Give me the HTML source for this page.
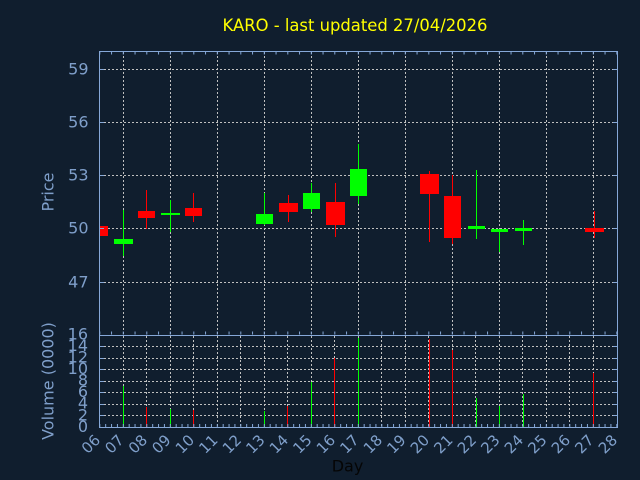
<!DOCTYPE html>
<html>
<head>
<meta charset="utf-8">
<style>
html,body{margin:0;padding:0;background:#101e2e;}
svg{display:block;}
text{font-family:"DejaVu Sans","Liberation Sans",sans-serif;}
</style>
</head>
<body>
<svg width="640" height="480" viewBox="0 0 640 480" xmlns="http://www.w3.org/2000/svg">
<rect x="0" y="0" width="640" height="480" fill="#101e2e"/>

<text x="355" y="31" font-size="16.4" fill="#ffff00" text-anchor="middle">KARO - last updated 27/04/2026</text>

<g stroke="#c0c0c0" stroke-width="1" stroke-dasharray="2,2" shape-rendering="crispEdges">
<line x1="100" y1="69.5" x2="617" y2="69.5"/>
<line x1="100" y1="122.5" x2="617" y2="122.5"/>
<line x1="100" y1="175.5" x2="617" y2="175.5"/>
<line x1="100" y1="228.5" x2="617" y2="228.5"/>
<line x1="100" y1="282.5" x2="617" y2="282.5"/>
<line x1="123.5" y1="52" x2="123.5" y2="335"/>
<line x1="170.5" y1="52" x2="170.5" y2="335"/>
<line x1="217.5" y1="52" x2="217.5" y2="335"/>
<line x1="264.5" y1="52" x2="264.5" y2="335"/>
<line x1="311.5" y1="52" x2="311.5" y2="335"/>
<line x1="358.5" y1="52" x2="358.5" y2="335"/>
<line x1="405.5" y1="52" x2="405.5" y2="335"/>
<line x1="452.5" y1="52" x2="452.5" y2="335"/>
<line x1="499.5" y1="52" x2="499.5" y2="335"/>
<line x1="546.5" y1="52" x2="546.5" y2="335"/>
<line x1="593.5" y1="52" x2="593.5" y2="335"/>
</g>

<g stroke="#c0c0c0" stroke-width="1" stroke-dasharray="2,2" shape-rendering="crispEdges">
<line x1="100" y1="415.5" x2="617" y2="415.5"/>
<line x1="100" y1="404.5" x2="617" y2="404.5"/>
<line x1="100" y1="392.5" x2="617" y2="392.5"/>
<line x1="100" y1="381.5" x2="617" y2="381.5"/>
<line x1="100" y1="369.5" x2="617" y2="369.5"/>
<line x1="100" y1="358.5" x2="617" y2="358.5"/>
<line x1="100" y1="346.5" x2="617" y2="346.5"/>
<line x1="123.5" y1="336" x2="123.5" y2="427"/>
<line x1="146.5" y1="336" x2="146.5" y2="427"/>
<line x1="170.5" y1="336" x2="170.5" y2="427"/>
<line x1="193.5" y1="336" x2="193.5" y2="427"/>
<line x1="217.5" y1="336" x2="217.5" y2="427"/>
<line x1="240.5" y1="336" x2="240.5" y2="427"/>
<line x1="264.5" y1="336" x2="264.5" y2="427"/>
<line x1="287.5" y1="336" x2="287.5" y2="427"/>
<line x1="311.5" y1="336" x2="311.5" y2="427"/>
<line x1="334.5" y1="336" x2="334.5" y2="427"/>
<line x1="358.5" y1="336" x2="358.5" y2="427"/>
<line x1="381.5" y1="336" x2="381.5" y2="427"/>
<line x1="405.5" y1="336" x2="405.5" y2="427"/>
<line x1="428.5" y1="336" x2="428.5" y2="427"/>
<line x1="452.5" y1="336" x2="452.5" y2="427"/>
<line x1="475.5" y1="336" x2="475.5" y2="427"/>
<line x1="499.5" y1="336" x2="499.5" y2="427"/>
<line x1="522.5" y1="336" x2="522.5" y2="427"/>
<line x1="546.5" y1="336" x2="546.5" y2="427"/>
<line x1="569.5" y1="336" x2="569.5" y2="427"/>
<line x1="593.5" y1="336" x2="593.5" y2="427"/>
</g>

<g shape-rendering="crispEdges">
<rect x="123" y="210" width="1" height="46" fill="#00ff00"/>
<rect x="146" y="190" width="1" height="39" fill="#ff0000"/>
<rect x="170" y="200" width="1" height="32" fill="#00ff00"/>
<rect x="193" y="193" width="1" height="29" fill="#ff0000"/>
<rect x="264" y="193" width="1" height="32" fill="#00ff00"/>
<rect x="288" y="195" width="1" height="27" fill="#ff0000"/>
<rect x="311" y="183" width="1" height="29" fill="#00ff00"/>
<rect x="335" y="183" width="1" height="54" fill="#ff0000"/>
<rect x="358" y="144" width="1" height="60" fill="#00ff00"/>
<rect x="429" y="171" width="1" height="71" fill="#ff0000"/>
<rect x="452" y="175" width="1" height="69" fill="#ff0000"/>
<rect x="476" y="170" width="1" height="69" fill="#00ff00"/>
<rect x="499" y="229" width="1" height="23" fill="#00ff00"/>
<rect x="523" y="220" width="1" height="25" fill="#00ff00"/>
<rect x="594" y="211" width="1" height="27" fill="#ff0000"/>

<rect x="100" y="226" width="8" height="10" fill="#ff0000"/>
<rect x="114" y="239" width="19" height="5" fill="#00ff00"/>
<rect x="138" y="211" width="17" height="7" fill="#ff0000"/>
<rect x="161" y="213" width="19" height="2" fill="#00ff00"/>
<rect x="185" y="208" width="17" height="8" fill="#ff0000"/>
<rect x="256" y="214" width="17" height="10" fill="#00ff00"/>
<rect x="279" y="203" width="19" height="9" fill="#ff0000"/>
<rect x="303" y="193" width="17" height="16" fill="#00ff00"/>
<rect x="326" y="202" width="19" height="23" fill="#ff0000"/>
<rect x="350" y="169" width="17" height="27" fill="#00ff00"/>
<rect x="420" y="174" width="19" height="20" fill="#ff0000"/>
<rect x="444" y="196" width="17" height="42" fill="#ff0000"/>
<rect x="468" y="226" width="17" height="3" fill="#00ff00"/>
<rect x="491" y="229" width="17" height="3" fill="#00ff00"/>
<rect x="515" y="228" width="17" height="3" fill="#00ff00"/>
<rect x="585" y="228" width="19" height="4" fill="#ff0000"/>

<rect x="123" y="386" width="1" height="41" fill="#00ff00"/>
<rect x="146" y="407" width="1" height="20" fill="#ff0000"/>
<rect x="170" y="409" width="1" height="18" fill="#00ff00"/>
<rect x="193" y="410" width="1" height="17" fill="#ff0000"/>
<rect x="264" y="411" width="1" height="16" fill="#00ff00"/>
<rect x="287" y="406" width="1" height="21" fill="#ff0000"/>
<rect x="311" y="382" width="1" height="45" fill="#00ff00"/>
<rect x="334" y="358" width="1" height="69" fill="#ff0000"/>
<rect x="358" y="338" width="1" height="89" fill="#00ff00"/>
<rect x="429" y="339" width="1" height="88" fill="#ff0000"/>
<rect x="452" y="350" width="1" height="77" fill="#ff0000"/>
<rect x="476" y="398" width="1" height="29" fill="#00ff00"/>
<rect x="499" y="406" width="1" height="21" fill="#00ff00"/>
<rect x="523" y="394" width="1" height="33" fill="#00ff00"/>
<rect x="593" y="373" width="1" height="54" fill="#ff0000"/>
</g>

<g stroke="#86a8d8" stroke-width="1" fill="none" shape-rendering="crispEdges">
<rect x="99.5" y="51.5" width="518" height="284"/>
<rect x="99.5" y="335.5" width="518" height="92"/>
<path d="M100 69.5h4M100 122.5h4M100 175.5h4M100 228.5h4M100 282.5h4M613 69.5h4M613 122.5h4M613 175.5h4M613 228.5h4M613 282.5h4"/>
<path d="M100 415.5h4M100 404.5h4M100 392.5h4M100 381.5h4M100 369.5h4M100 358.5h4M100 346.5h4M613 415.5h4M613 404.5h4M613 392.5h4M613 381.5h4M613 369.5h4M613 358.5h4M613 346.5h4"/>
</g>
<g stroke="#86a8d8" fill="none">
<line x1="99.3" y1="53" x2="618" y2="53" stroke-width="3" stroke-dasharray="1 10.75"/>
<line x1="99.3" y1="333" x2="618" y2="333" stroke-width="3" stroke-dasharray="1 10.75"/>
<line x1="99.3" y1="425.5" x2="618" y2="425.5" stroke-width="3" stroke-dasharray="1 4.875"/>
</g>

<g font-size="16" fill="#7f9fca" text-anchor="end">
<text x="88.5" y="74.5">59</text>
<text x="88.5" y="127.5">56</text>
<text x="88.5" y="180.5">53</text>
<text x="88.5" y="233.5">50</text>
<text x="88.5" y="287.5">47</text>
</g>
<g font-size="16" fill="#7f9fca" text-anchor="end">
<text x="88" y="431.8">0</text>
<text x="88" y="420.3">2</text>
<text x="88" y="408.7">4</text>
<text x="88" y="397.2">6</text>
<text x="88" y="385.6">8</text>
<text x="88" y="374.1">10</text>
<text x="88" y="362.6">12</text>
<text x="88" y="351">14</text>
<text x="88" y="339.5">16</text>
</g>

<text transform="translate(53.5,192) rotate(-90)" font-size="16" fill="#7f9fca" text-anchor="middle">Price</text>
<text transform="translate(53.5,381) rotate(-90)" font-size="16" fill="#7f9fca" text-anchor="middle">Volume (0000)</text>
<text x="347.5" y="471.5" font-size="16" fill="#050505" text-anchor="middle">Day</text>

<g font-size="15" fill="#7f9fca" text-anchor="end">
<text transform="translate(101.3,441) rotate(-45)">06</text>
<text transform="translate(124.8,441) rotate(-45)">07</text>
<text transform="translate(148.3,441) rotate(-45)">08</text>
<text transform="translate(171.8,441) rotate(-45)">09</text>
<text transform="translate(195.3,441) rotate(-45)">10</text>
<text transform="translate(218.8,441) rotate(-45)">11</text>
<text transform="translate(242.3,441) rotate(-45)">12</text>
<text transform="translate(265.8,441) rotate(-45)">13</text>
<text transform="translate(289.3,441) rotate(-45)">14</text>
<text transform="translate(312.8,441) rotate(-45)">15</text>
<text transform="translate(336.3,441) rotate(-45)">16</text>
<text transform="translate(359.8,441) rotate(-45)">17</text>
<text transform="translate(383.3,441) rotate(-45)">18</text>
<text transform="translate(406.8,441) rotate(-45)">19</text>
<text transform="translate(430.3,441) rotate(-45)">20</text>
<text transform="translate(453.8,441) rotate(-45)">21</text>
<text transform="translate(477.3,441) rotate(-45)">22</text>
<text transform="translate(500.8,441) rotate(-45)">23</text>
<text transform="translate(524.3,441) rotate(-45)">24</text>
<text transform="translate(547.8,441) rotate(-45)">25</text>
<text transform="translate(571.3,441) rotate(-45)">26</text>
<text transform="translate(594.8,441) rotate(-45)">27</text>
<text transform="translate(618.3,441) rotate(-45)">28</text>
</g>
</svg>
</body>
</html>
